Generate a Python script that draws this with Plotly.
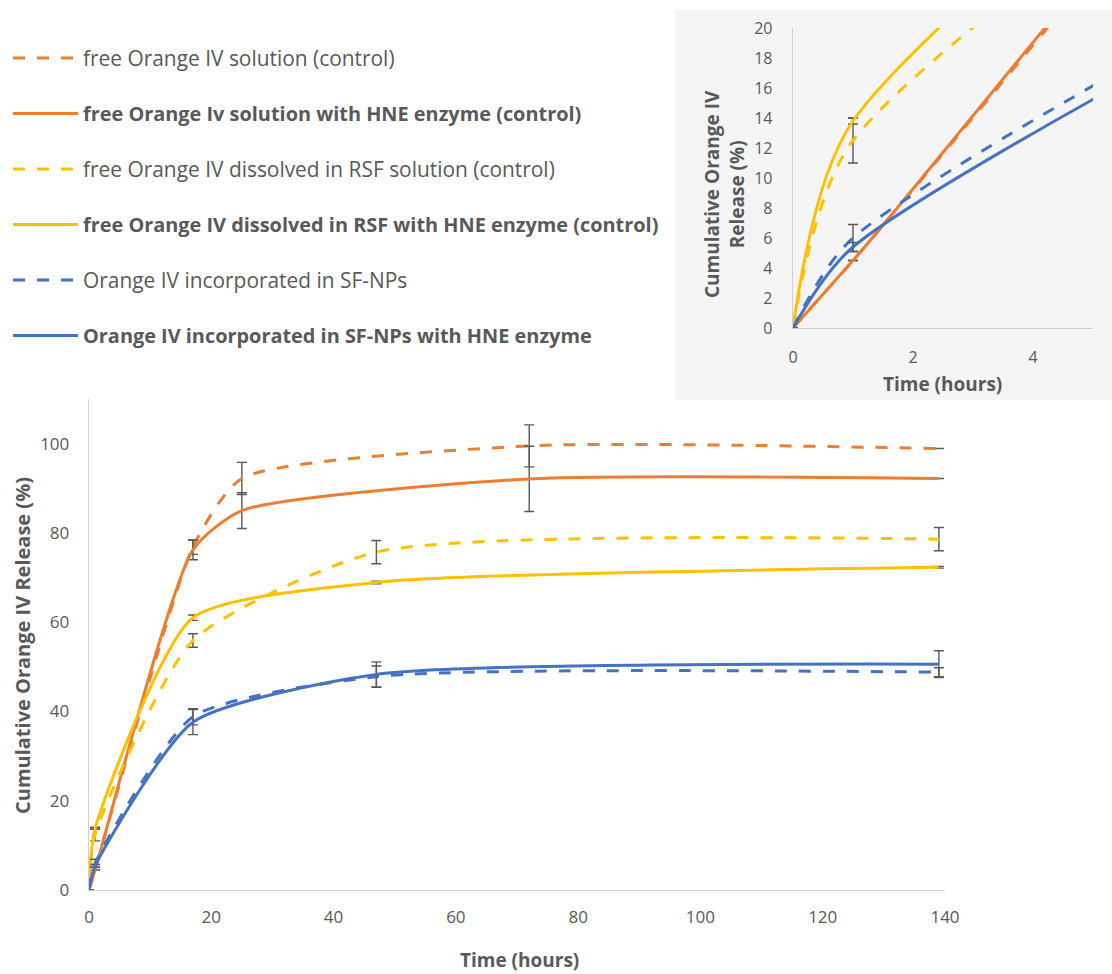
import plotly.graph_objects as go

W, H = 1112, 974

# ---------------- data ----------------
t_orange = [0, 1, 17, 25, 72, 139]
orange_ctrl = [0, 4.5, 76.8, 92.2, 99.5, 98.9]
orange_ctrl_err = [None, None, 1.6, 3.6, 4.7, None]
orange_hne = [0, 4.5, 76.2, 85.0, 92.1, 92.2]
orange_hne_err = [None, None, 2.2, 4.0, 7.3, None]

t_other = [0, 1, 17, 47, 139]
yellow_ctrl = [0, 12.5, 55.9, 75.7, 78.6]
yellow_ctrl_err = [None, 1.5, 1.5, 2.6, 2.6]
yellow_hne = [0, 13.8, 61.0, 68.9, 72.3]
yellow_hne_err = [None, 0.2, 0.6, 0.3, 0.2]
blue_ctrl = [0, 6.0, 38.8, 47.8, 48.8]
blue_ctrl_err = [None, 0.9, 1.8, 2.4, 1.0]
blue_hne = [0, 5.4, 37.6, 48.3, 50.6]
blue_hne_err = [None, 0.3, 2.8, 2.8, 3.0]

names = [
    "free Orange IV solution (control)",
    "free Orange Iv solution with HNE enzyme (control)",
    "free Orange IV dissolved in RSF solution (control)",
    "free Orange IV dissolved in RSF with HNE enzyme (control)",
    "Orange IV incorporated in SF-NPs",
    "Orange IV incorporated in SF-NPs with HNE enzyme",
]
bold = [False, True, False, True, False, True]

ORANGE, GOLD, BLUE = "#ED7D31", "#FFC000", "#4472C4"
DASH = "12px,12px"
series = [
    (t_orange, orange_ctrl, orange_ctrl_err, ORANGE, DASH),
    (t_orange, orange_hne, orange_hne_err, ORANGE, "solid"),
    (t_other, yellow_ctrl, yellow_ctrl_err, GOLD, DASH),
    (t_other, yellow_hne, yellow_hne_err, GOLD, "solid"),
    (t_other, blue_ctrl, blue_ctrl_err, BLUE, DASH),
    (t_other, blue_hne, blue_hne_err, BLUE, "solid"),
]

FONT = "Open Sans"
GRAY = "#595959"
ERRC = "#595959"


def px(x):
    return x / W


def py(y):
    return 1 - y / H


fig = go.Figure()
for (xa, ya, sm) in [("x", "y", 0.6), ("x2", "y2", 0.7)]:
    for i, (t, v, e, c, d) in enumerate(series):
        fig.add_trace(go.Scatter(
            x=t, y=v, mode="lines", name=names[i],
            line=dict(color=c, width=3, dash=d, shape="spline", smoothing=sm),
            error_y=dict(type="data", array=e, visible=True, color=ERRC,
                         thickness=1.4, width=5),
            xaxis=xa, yaxis=ya, showlegend=False, hoverinfo="skip",
        ))

shapes = []
annotations = []

# inset background
shapes.append(dict(type="rect", xref="paper", yref="paper",
                   x0=px(675), x1=1.0, y0=py(400), y1=py(10),
                   fillcolor="#F5F5F5", line=dict(width=0), layer="below"))

# manual legend
for i, (t, v, e, c, d) in enumerate(series):
    yc = 58 + 55.5 * i
    shapes.append(dict(type="line", xref="paper", yref="paper",
                       x0=px(13), x1=px(77 if d != "solid" else 78),
                       y0=py(yc), y1=py(yc),
                       line=dict(color=c, width=3, dash=d)))
    if bold[i]:
        txt, size = f"<b>{names[i]}</b>", 19.9
    else:
        txt, size = names[i], 20.9
    annotations.append(dict(xref="paper", yref="paper", x=px(81), y=py(yc),
                            text=txt, showarrow=False, xanchor="left",
                            yanchor="middle",
                            font=dict(family=FONT, size=size, color=GRAY)))

# axis titles
TFONT = dict(family=FONT, size=19, color=GRAY)
annotations.append(dict(xref="paper", yref="paper", x=px(519), y=py(960),
                        text="<b>Time (hours)</b>", showarrow=False,
                        xanchor="center", yanchor="middle", font=TFONT))
annotations.append(dict(xref="paper", yref="paper", x=px(22), y=py(646),
                        text="<b>Cumulative Orange IV Release (%)</b>",
                        showarrow=False, textangle=-90,
                        xanchor="center", yanchor="middle",
                        font=dict(family=FONT, size=20, color=GRAY)))
annotations.append(dict(xref="paper", yref="paper", x=px(942), y=py(384),
                        text="<b>Time (hours)</b>", showarrow=False,
                        xanchor="center", yanchor="middle", font=TFONT))
annotations.append(dict(xref="paper", yref="paper", x=px(724), y=py(194),
                        text="<b>Cumulative Orange IV<br>Release (%)</b>",
                        showarrow=False, textangle=-90,
                        xanchor="center", yanchor="middle", font=TFONT))

axis_common = dict(showgrid=False, zeroline=False, showline=True,
                   linecolor="#D0D0D0", linewidth=1.3, ticks="",
                   automargin=False)

fig.update_layout(
    width=W, height=H,
    margin=dict(l=0, r=0, t=0, b=0, autoexpand=False),
    paper_bgcolor="white", plot_bgcolor="rgba(0,0,0,0)",
    showlegend=False,
    shapes=shapes, annotations=annotations,
    xaxis=dict(domain=[px(89), px(945)], range=[0, 140],
               tickvals=[0, 20, 40, 60, 80, 100, 120, 140],
               tickfont=dict(family=FONT, size=17, color=GRAY),
               anchor="y", ticklabelstandoff=11, **axis_common),
    yaxis=dict(domain=[py(890), py(399)], range=[0, 110],
               tickvals=[0, 20, 40, 60, 80, 100],
               tickfont=dict(family=FONT, size=17, color=GRAY),
               anchor="x", ticklabelstandoff=15, **axis_common),
    xaxis2=dict(domain=[px(793), px(1093)], range=[0, 5], tickvals=[0, 2, 4],
                tickfont=dict(family=FONT, size=16, color=GRAY),
                anchor="y2", ticklabelstandoff=14, **axis_common),
    yaxis2=dict(domain=[py(328), py(28)], range=[0, 20],
                tickvals=list(range(0, 21, 2)),
                tickfont=dict(family=FONT, size=16, color=GRAY),
                anchor="x2", ticklabelstandoff=16, **axis_common),
)

fig.write_html(
    "out.html",
    config={"displayModeBar": False, "staticPlot": True},
    post_script="document.body.style.margin='0';"
                "document.body.style.overflow='hidden';",
)
